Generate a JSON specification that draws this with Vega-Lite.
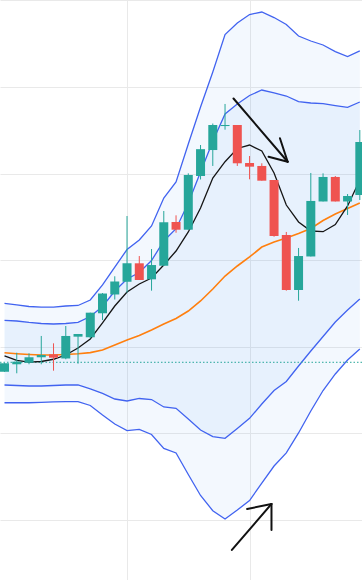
{
  "$schema": "https://vega.github.io/schema/vega-lite/v6.json",
  "width": 362,
  "height": 580,
  "padding": 0,
  "autosize": {"type": "none"},
  "background": "white",
  "config": {"view": {"stroke": null}},
  "datasets": {
    "c": [
      {"i":0,"o":127.11,"h":128.1,"l":127.1,"c":128.08,"ma":128.93,"ema":129.31,"u2":135.00,"u1":133.04,"l1":125.58,"l2":123.53},
      {"i":1,"o":127.97,"h":129.31,"l":126.93,"c":128.27,"ma":128.41,"ema":129.19,"u2":134.82,"u1":132.97,"l1":125.52,"l2":123.53},
      {"i":2,"o":128.15,"h":129.24,"l":127.97,"c":128.78,"ma":128.23,"ema":129.10,"u2":134.64,"u1":132.80,"l1":125.46,"l2":123.53},
      {"i":3,"o":128.78,"h":131.24,"l":127.97,"c":129.04,"ma":128.29,"ema":129.04,"u2":134.58,"u1":132.68,"l1":125.46,"l2":123.56},
      {"i":4,"o":129.12,"h":130.39,"l":127.23,"c":128.73,"ma":128.55,"ema":129.04,"u2":134.58,"u1":132.62,"l1":125.52,"l2":123.62},
      {"i":5,"o":128.64,"h":132.39,"l":128.55,"c":131.24,"ma":129.04,"ema":129.10,"u2":134.70,"u1":132.68,"l1":125.58,"l2":123.65},
      {"i":6,"o":131.16,"h":131.47,"l":128.04,"c":131.47,"ma":129.85,"ema":129.18,"u2":134.76,"u1":132.80,"l1":125.58,"l2":123.65},
      {"i":7,"o":131.09,"h":133.93,"l":130.97,"c":133.93,"ma":130.89,"ema":129.32,"u2":135.39,"u1":133.49,"l1":125.12,"l2":123.21},
      {"i":8,"o":133.86,"h":136.2,"l":133.08,"c":136.14,"ma":132.74,"ema":129.62,"u2":137.13,"u1":134.64,"l1":124.60,"l2":122.11},
      {"i":9,"o":136.03,"h":138.13,"l":135.45,"c":137.53,"ma":134.70,"ema":130.20,"u2":139.20,"u1":136.43,"l1":123.96,"l2":121.07},
      {"i":10,"o":137.51,"h":145.09,"l":136.24,"c":139.63,"ma":136.32,"ema":130.77,"u2":141.22,"u1":137.82,"l1":123.73,"l2":120.32},
      {"i":11,"o":139.63,"h":140.47,"l":137.70,"c":137.70,"ma":137.24,"ema":131.29,"u2":142.32,"u1":138.57,"l1":124.02,"l2":120.46},
      {"i":12,"o":137.78,"h":141.28,"l":136.47,"c":139.43,"ma":137.93,"ema":131.93,"u2":143.94,"u1":139.95,"l1":123.90,"l2":119.86},
      {"i":13,"o":139.35,"h":145.67,"l":139.35,"c":144.37,"ma":139.44,"ema":132.62,"u2":147.17,"u1":142.21,"l1":123.04,"l2":118.25},
      {"i":14,"o":144.40,"h":145.17,"l":143.16,"c":143.51,"ma":141.05,"ema":133.26,"u2":149.02,"u1":143.63,"l1":122.89,"l2":117.73},
      {"i":15,"o":143.51,"h":150.02,"l":143.51,"c":149.83,"ma":143.25,"ema":134.12,"u2":153.41,"u1":146.59,"l1":121.65,"l2":115.24},
      {"i":16,"o":149.71,"h":153.29,"l":149.31,"c":152.81,"ma":146.02,"ema":135.28,"u2":157.68,"u1":150.17,"l1":120.38,"l2":112.82},
      {"i":17,"o":152.71,"h":155.77,"l":150.87,"c":155.60,"ma":149.48,"ema":136.66,"u2":161.72,"u1":153.72,"l1":119.61,"l2":111.06},
      {"i":18,"o":155.48,"h":158.03,"l":155.06,"c":155.60,"ma":151.36,"ema":138.16,"u2":166.05,"u1":156.87,"l1":119.42,"l2":110.10},
      {"i":19,"o":155.60,"h":155.60,"l":150.87,"c":151.18,"ma":152.89,"ema":139.32,"u2":167.38,"u1":158.03,"l1":120.56,"l2":111.14},
      {"i":20,"o":151.21,"h":152.02,"l":149.33,"c":150.79,"ma":153.29,"ema":140.36,"u2":168.36,"u1":159.01,"l1":121.73,"l2":112.24},
      {"i":21,"o":150.87,"h":151.18,"l":149.17,"c":149.17,"ma":152.60,"ema":141.51,"u2":168.65,"u1":159.64,"l1":123.38,"l2":114.26},
      {"i":22,"o":149.25,"h":149.25,"l":142.70,"c":142.78,"ma":150.06,"ema":142.09,"u2":168.01,"u1":159.30,"l1":124.94,"l2":116.22},
      {"i":23,"o":142.90,"h":143.25,"l":136.47,"c":136.55,"ma":146.36,"ema":142.55,"u2":167.21,"u1":158.95,"l1":125.98,"l2":117.73},
      {"i":24,"o":136.55,"h":141.40,"l":135.31,"c":140.47,"ma":144.40,"ema":143.07,"u2":165.88,"u1":158.31,"l1":127.77,"l2":120.04},
      {"i":25,"o":140.42,"h":150.06,"l":140.42,"c":146.83,"ma":143.36,"ema":143.65,"u2":165.30,"u1":158.14,"l1":129.50,"l2":122.58},
      {"i":26,"o":146.77,"h":150.02,"l":146.77,"c":149.60,"ma":143.28,"ema":144.57,"u2":164.84,"u1":158.08,"l1":131.18,"l2":124.94},
      {"i":27,"o":149.60,"h":149.71,"l":146.77,"c":146.77,"ma":144.11,"ema":145.32,"u2":164.07,"u1":157.85,"l1":132.85,"l2":126.85},
      {"i":28,"o":146.77,"h":147.63,"l":145.21,"c":147.40,"ma":146.25,"ema":145.96,"u2":163.51,"u1":157.64,"l1":134.24,"l2":128.46},
      {"i":29,"o":147.52,"h":155.02,"l":146.94,"c":153.64,"ma":149.25,"ema":146.59,"u2":164.15,"u1":158.26,"l1":135.51,"l2":129.73}
    ],
    "arrows": [
      {"x":18.69,"y":158.66,"x2":23.11,"y2":151.36},
      {"x":22.48,"y":154.07,"x2":23.11,"y2":151.36},
      {"x":21.55,"y":151.94,"x2":23.11,"y2":151.36},
      {"x":18.56,"y":106.53,"x2":21.79,"y2":111.84},
      {"x":19.80,"y":111.26,"x2":21.79,"y2":111.84},
      {"x":21.79,"y":108.83,"x2":21.79,"y2":111.84}
    ],
    "ref": [{"p": 128.2}]
  },
  "layer": [
    {
      "data": {"name": "c"},
      "mark": {"type": "area", "color": "#1e88e5", "opacity": 0.055, "clip": true},
      "encoding": {
        "x": {"field": "i", "type": "quantitative", "scale": {"domain": [0.04, 28.77], "nice": false, "zero": false},
              "axis": {"title": null, "labels": false, "ticks": false, "domain": true, "domainColor": "#dfe5ec", "grid": true, "gridColor": "#e9e9e9", "values": [10, 20]}},
        "y": {"field": "u2", "type": "quantitative", "scale": {"domain": [103.06, 170.035], "nice": false, "zero": false},
              "axis": {"title": null, "labels": false, "ticks": false, "domain": false, "grid": true, "gridColor": "#e9e9e9", "values": [110, 120, 130, 140, 150, 160, 170]}},
        "y2": {"field": "l2"}
      }
    },
    {
      "data": {"name": "c"},
      "mark": {"type": "area", "color": "#1e88e5", "opacity": 0.055, "clip": true},
      "encoding": {
        "x": {"field": "i", "type": "quantitative"},
        "y": {"field": "u1", "type": "quantitative"},
        "y2": {"field": "l1"}
      }
    },
    {
      "data": {"name": "c"},
      "mark": {"type": "line", "color": "#4163f0", "strokeWidth": 1.3, "clip": true},
      "encoding": {"x": {"field": "i", "type": "quantitative"}, "y": {"field": "u2", "type": "quantitative"}}
    },
    {
      "data": {"name": "c"},
      "mark": {"type": "line", "color": "#4163f0", "strokeWidth": 1.3, "clip": true},
      "encoding": {"x": {"field": "i", "type": "quantitative"}, "y": {"field": "u1", "type": "quantitative"}}
    },
    {
      "data": {"name": "c"},
      "mark": {"type": "line", "color": "#4163f0", "strokeWidth": 1.3, "clip": true},
      "encoding": {"x": {"field": "i", "type": "quantitative"}, "y": {"field": "l1", "type": "quantitative"}}
    },
    {
      "data": {"name": "c"},
      "mark": {"type": "line", "color": "#4163f0", "strokeWidth": 1.3, "clip": true},
      "encoding": {"x": {"field": "i", "type": "quantitative"}, "y": {"field": "l2", "type": "quantitative"}}
    },
    {
      "data": {"name": "ref"},
      "mark": {"type": "rule", "color": "#26a69a", "strokeWidth": 1, "strokeDash": [1.5, 2], "clip": true},
      "encoding": {"y": {"field": "p", "type": "quantitative"}}
    },
    {
      "data": {"name": "c"},
      "mark": {"type": "line", "color": "#ff7f0e", "strokeWidth": 1.6, "clip": true},
      "encoding": {"x": {"field": "i", "type": "quantitative"}, "y": {"field": "ema", "type": "quantitative"}}
    },
    {
      "data": {"name": "c"},
      "mark": {"type": "line", "color": "#151515", "strokeWidth": 1.3, "clip": true},
      "encoding": {"x": {"field": "i", "type": "quantitative"}, "y": {"field": "ma", "type": "quantitative"}}
    },
    {
      "data": {"name": "c"},
      "mark": {"type": "rule", "strokeWidth": 1, "clip": true},
      "encoding": {
        "x": {"field": "i", "type": "quantitative"},
        "y": {"field": "l", "type": "quantitative"},
        "y2": {"field": "h"},
        "color": {"condition": {"test": "datum.c < datum.o", "value": "#ef5350"}, "value": "#26a69a"}
      }
    },
    {
      "data": {"name": "c"},
      "mark": {"type": "bar", "width": 9, "clip": true},
      "encoding": {
        "x": {"field": "i", "type": "quantitative"},
        "y": {"field": "o", "type": "quantitative"},
        "y2": {"field": "c"},
        "color": {"condition": {"test": "datum.c < datum.o", "value": "#ef5350"}, "value": "#26a69a"}
      }
    },
    {
      "data": {"name": "arrows"},
      "mark": {"type": "rule", "color": "#111111", "strokeWidth": 2, "strokeCap": "round", "clip": true},
      "encoding": {
        "x": {"field": "x", "type": "quantitative"},
        "y": {"field": "y", "type": "quantitative"},
        "x2": {"field": "x2"},
        "y2": {"field": "y2"}
      }
    }
  ]
}
